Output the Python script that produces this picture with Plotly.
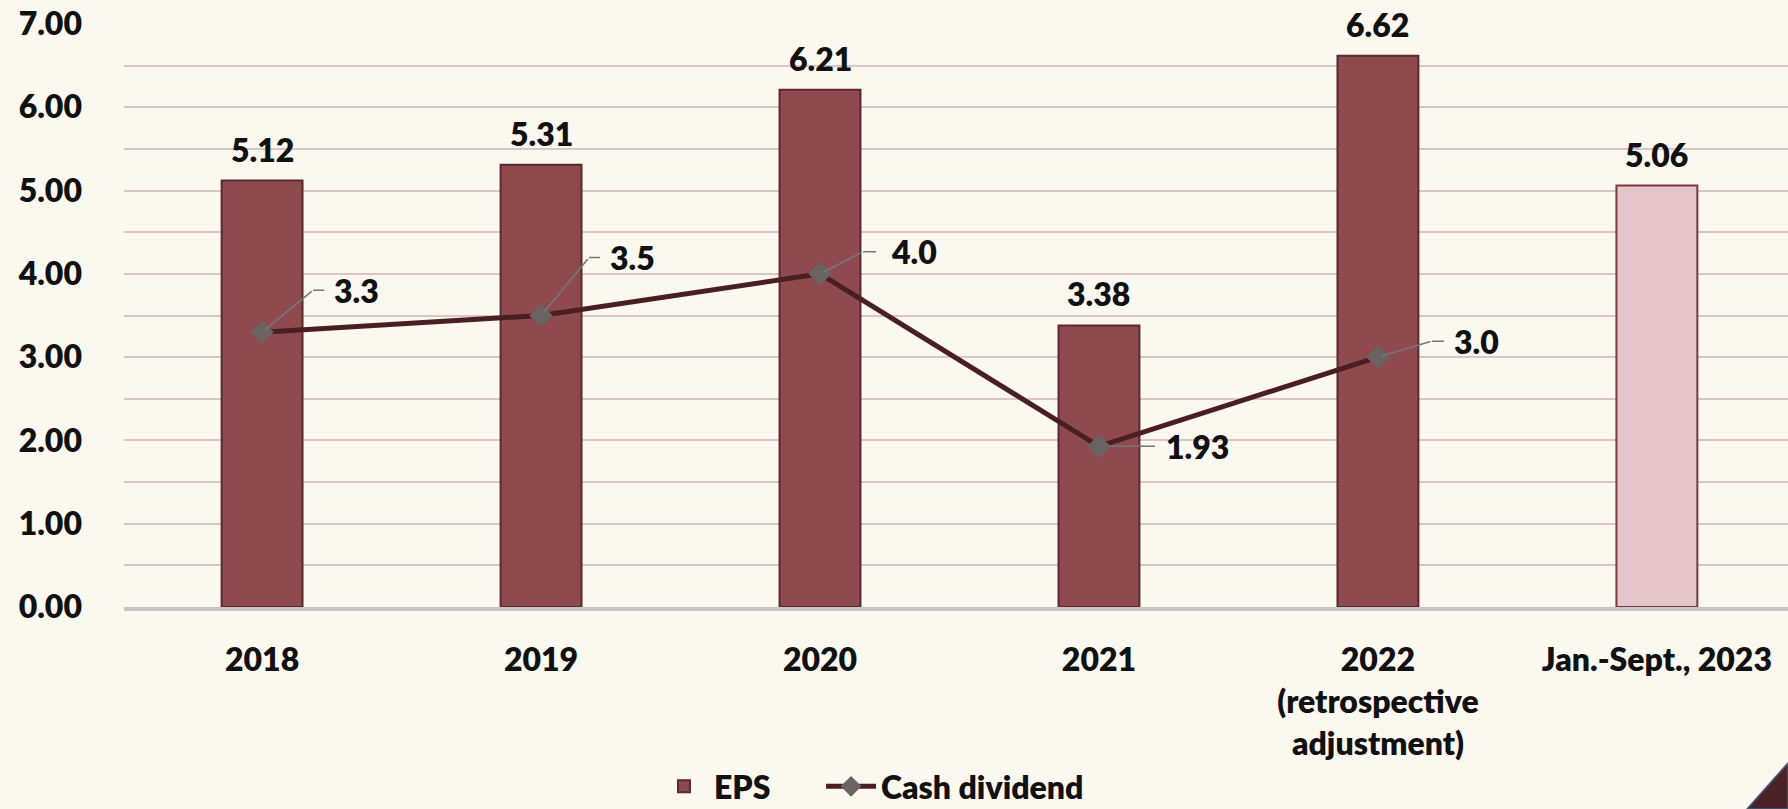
import plotly.graph_objects as go

categories = ["2018", "2019", "2020", "2021", "2022<br>(retrospective<br>adjustment)", "Jan.-Sept., 2023"]
eps = [5.12, 5.31, 6.21, 3.38, 6.62, 5.06]
dividend = [3.3, 3.5, 4.0, 1.93, 3.0, None]
dividend_labels = ["3.3", "3.5", "4.0", "1.93", "3.0", ""]
bar_colors = ["#8E4A4F"] * 5 + ["#E4C5C9"]
bar_lines = ["#5B2A2F"] * 5 + ["#7A3A40"]
# leader-line geometry (px) for dividend labels: elbow dx, elbow dy, horizontal length, gap
leader = [(51, 42, 11, 9), (48, 58, 11, 9), (43, 22, 13, 14), (0, 0, 56, 10), (54, 16, 12, 9), None]

FONT = "Lato"
W = 800
BG = "#FBF8F0"
TXT = "#111111"

fig = go.Figure()
fig.add_trace(go.Bar(
    x=categories, y=eps, name="EPS", width=0.29, legend="legend",
    marker=dict(color=bar_colors, line=dict(color=bar_lines, width=2)),
))
fig.add_trace(go.Scatter(
    x=categories, y=dividend, name="Cash dividend", mode="lines+markers", legend="legend2",
    line=dict(color="#4A1F22", width=5),
    marker=dict(symbol="diamond", size=18, color="#6B6262"),
))

annotations = []
for i, v in enumerate(eps):
    annotations.append(dict(x=i, y=v, text=f"{v:.2f}", showarrow=False,
                            yanchor="bottom", yshift=10,
                            font=dict(family=FONT, size=32, color=TXT, weight=W)))
for i, (v, lab, ld) in enumerate(zip(dividend, dividend_labels, leader)):
    if v is None or ld is None:
        continue
    dx, dy, h, g = ld
    if dy != 0 or dx != 0:
        annotations.append(dict(x=i, y=v, text="", showarrow=True, arrowhead=0,
                                arrowwidth=1.5, arrowcolor="#777777",
                                ax=dx, ay=-dy, standoff=4))
    annotations.append(dict(x=i, y=v, xshift=dx, yshift=dy, text=lab, showarrow=True,
                            arrowhead=0, arrowwidth=1.5, arrowcolor="#777777",
                            ax=h + g, ay=0, xanchor="left", yanchor="middle",
                            standoff=(10 if dx == 0 and dy == 0 else 0),
                            startstandoff=g, borderpad=0,
                            font=dict(family=FONT, size=32, color=TXT, weight=W)))

legend_style = dict(orientation="h", xanchor="left", y=-0.308, yanchor="middle",
                    bgcolor="rgba(0,0,0,0)",
                    font=dict(family=FONT, size=32, color=TXT, weight=W),
                    itemwidth=50)

fig.update_layout(
    width=1788, height=809,
    margin=dict(l=124, r=0, t=24, b=202, autoexpand=False),
    paper_bgcolor=BG, plot_bgcolor=BG,
    font=dict(family=FONT, size=32, color=TXT, weight=W),
    showlegend=True,
    legend=dict(x=0.3185, **legend_style),
    legend2=dict(x=0.4189, **legend_style),
    annotations=annotations,
    shapes=[dict(type="path", xref="paper", yref="paper",
                 path="M 0.9754 -0.3465 L 1.0 -0.2676 L 1.0 -0.3465 Z",
                 fillcolor="#4A2226", line=dict(color="#4A5A78", width=1.5), layer="above")],
)
fig.update_yaxes(range=[0, 7], tickvals=[0, 1, 2, 3, 4, 5, 6, 7],
                 ticktext=["0.00", "1.00", "2.00", "3.00", "4.00", "5.00", "6.00", "7.00"],
                 showgrid=True, gridcolor="#DCC5C5", gridwidth=1.5,
                 minor=dict(tickvals=[0.5, 1.5, 2.5, 3.5, 4.5, 5.5, 6.5], showgrid=True,
                            gridcolor="#DCC5C5", gridwidth=1.5),
                 zeroline=False, showline=False, ticklabelstandoff=41, automargin=False,
                 tickfont=dict(family=FONT, size=32, color=TXT, weight=W))
fig.update_xaxes(type="category", range=[-0.495, 5.47], automargin=False,
                 showline=True, linecolor="#C4C4C4", linewidth=4, showgrid=False,
                 ticks="", ticklabelstandoff=22,
                 tickfont=dict(family=FONT, size=32, color=TXT, weight=W))

fig.write_html("out.html", config={"displayModeBar": False},
               post_script="document.body.style.margin='0';document.body.style.overflow='hidden';")
